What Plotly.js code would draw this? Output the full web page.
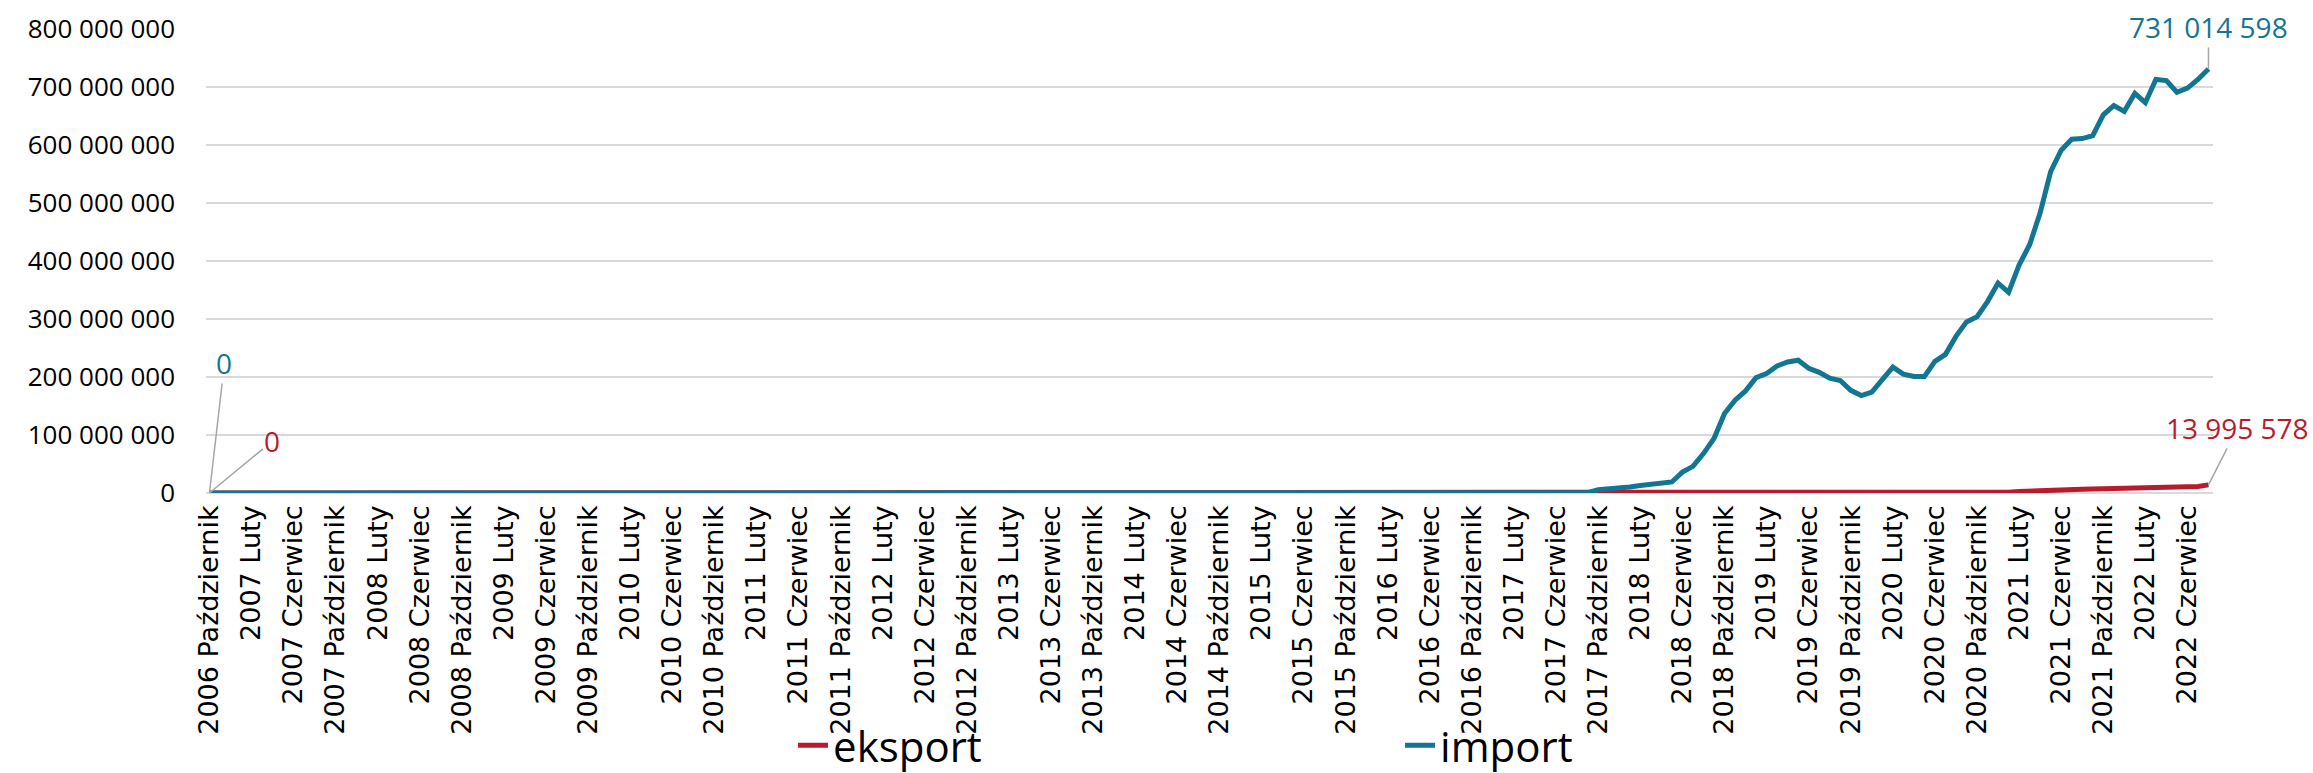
<!DOCTYPE html>
<html>
<head>
<meta charset="utf-8">
<script src="https://cdn.plot.ly/plotly-3.0.1.min.js"></script>
<style>html,body{margin:0;padding:0;background:#fff;}#chart{width:2313px;height:773px;}</style>
</head>
<body>
<div id="chart"></div>
<script>
// Category labels (months from 2006 Październik to 2022 Sierpień)
var monthNames = ["Styczeń","Luty","Marzec","Kwiecień","Maj","Czerwiec","Lipiec","Sierpień","Wrzesień","Październik","Listopad","Grudzień"];
var years = [2006,2007,2008,2009,2010,2011,2012,2013,2014,2015,2016,2017,2018,2019,2020,2021,2022];
var firstMonthIndex = 9;   // Październik 2006
var lastMonthIndex = 7;    // Sierpień 2022

var categories = [];
years.forEach(function(y, yi){
  monthNames.forEach(function(m, mi){
    if (yi === 0 && mi < firstMonthIndex) return;
    if (yi === years.length - 1 && mi > lastMonthIndex) return;
    categories.push(y + " " + m);
  });
});

// eksport, one row per year
var eksport = [
  0,0,0,
  0,0,0,0,0,0,0,0,0,0,0,0,
  0,0,0,0,0,0,0,0,0,0,0,0,
  0,0,0,0,0,0,0,0,0,0,0,0,
  0,0,0,0,0,0,0,0,0,0,0,0,
  0,0,0,0,0,0,0,0,0,0,0,0,
  0,0,0,0,0,0,0,0,0,0,0,0,
  0,0,0,0,0,0,0,0,0,0,0,0,
  0,0,0,0,0,0,0,0,0,0,0,0,
  0,0,0,0,0,0,0,0,0,0,0,0,
  0,0,0,0,0,0,0,0,0,0,0,0,
  0,0,0,0,0,0,0,0,200000,300000,300000,400000,
  400000,500000,500000,600000,600000,700000,700000,800000,800000,900000,900000,900000,
  1000000,1000000,1000000,900000,800000,800000,800000,700000,700000,800000,900000,1000000,
  1000000,900000,900000,900000,1000000,1000000,1100000,1100000,1100000,1200000,1300000,1500000,
  1500000,2500000,3500000,4500000,5300000,5800000,6200000,6500000,6800000,7100000,7300000,7600000,
  8200000,9000000,9600000,9900000,10100000,10400000,11200000,13995578
];

// import, one row per year
var importVals = [
  0,0,0,
  0,0,0,0,0,0,0,0,0,0,0,0,
  0,0,0,0,0,0,0,0,0,0,0,0,
  0,0,0,0,0,0,0,0,0,0,0,0,
  0,0,0,0,0,0,0,0,0,0,0,0,
  0,0,0,0,0,0,0,0,0,0,0,0,
  0,0,0,0,0,0,0,0,0,0,0,0,
  0,0,0,0,0,0,0,0,0,0,0,0,
  0,0,0,0,0,0,0,0,0,0,0,0,
  0,0,0,0,0,0,0,0,0,0,0,0,
  0,0,0,0,0,0,0,0,0,0,0,0,
  0,0,0,0,0,0,0,0,500000,5500000,6500000,7500000,
  10500000,13000000,15000000,17000000,19000000,36000000,46000000,68000000,94000000,137000000,160000000,176000000,
  199000000,206000000,219000000,226000000,229000000,215000000,208000000,198000000,194000000,177000000,168000000,174000000,
  195000000,217000000,205000000,201000000,201000000,227000000,239000000,270000000,295000000,304000000,330000000,362000000,
  346000000,393000000,428000000,483000000,554000000,591000000,610000000,611000000,616000000,652000000,668000000,658000000,
  689000000,673000000,713000000,711000000,691000000,698000000,713000000,731014598
];

var tickLabels = categories.filter(function(c, i){ return i % 4 === 0; });

var seriesNames = ["eksport", "import"];
var seriesColors = ["#B81C2C", "#127591"];

function fmt(v){ return String(Math.round(v)).replace(/\B(?=(\d{3})+(?!\d))/g, " "); }

var last = categories.length - 1;

var traces = [
  {x: categories, y: eksport, type: "scatter", mode: "lines", name: seriesNames[0],
   line: {color: seriesColors[0], width: 5}, hoverinfo: "skip"},
  {x: categories, y: importVals, type: "scatter", mode: "lines", name: seriesNames[1],
   line: {color: seriesColors[1], width: 5}, hoverinfo: "skip"}
];

var labelFont = {family: "Open Sans", size: 28};
var arrowStyle = {showarrow: true, arrowhead: 0, arrowwidth: 1.5, arrowcolor: "#A6A6A6", standoff: 0, startstandoff: 0, xref: "x", yref: "y"};

function ann(xc, yv, txt, color, ax, ay){
  return Object.assign({}, arrowStyle, {x: xc, y: yv, text: txt, ax: ax, ay: ay,
    font: Object.assign({}, labelFont, {color: color})});
}

var layout = {
  width: 2313, height: 773,
  margin: {l: 206, r: 100, t: 29, b: 280, pad: 0, autoexpand: false},
  paper_bgcolor: "#ffffff", plot_bgcolor: "#ffffff",
  separators: ", ",
  showlegend: true,
  legend: {orientation: "h", x: 0.2925, xanchor: "left", y: -0.471, yanchor: "top",
           font: {family: "Open Sans", size: 42, color: "#000000"},
           entrywidth: 562, entrywidthmode: "pixels", itemwidth: 30,
           bgcolor: "rgba(0,0,0,0)", tracegroupgap: 0},
  xaxis: {type: "category", range: [-0.33, last + 0.43],
          tickmode: "array", tickvals: tickLabels, ticktext: tickLabels,
          tickangle: -90, tickfont: {family: "DejaVu Sans", size: 27, color: "#000000"},
          showgrid: false, zeroline: false, showline: false, ticks: "", ticklabelstandoff: 6,
          automargin: false, fixedrange: true},
  yaxis: {range: [0, 800000000], dtick: 100000000, tick0: 0, tickformat: ",d",
          tickfont: {family: "Open Sans", size: 26, color: "#000000"},
          showgrid: true, gridcolor: "#D9D9D9", gridwidth: 1.5,
          zeroline: true, zerolinecolor: "#D9D9D9", zerolinewidth: 1.5,
          showline: false, ticks: "", ticklabelstandoff: 30, automargin: false, fixedrange: true},
  annotations: [
    ann(categories[last], importVals[last], fmt(importVals[last]), seriesColors[1], 0, -42),
    ann(categories[last], eksport[last], fmt(eksport[last]), seriesColors[0], 29, -57),
    ann(categories[0], importVals[0], fmt(importVals[0]), seriesColors[1], 15, -130),
    ann(categories[0], eksport[0], fmt(eksport[0]), seriesColors[0], 63, -52)
  ]
};

Plotly.newPlot("chart", traces, layout, {staticPlot: true, displayModeBar: false});
</script>
</body>
</html>
